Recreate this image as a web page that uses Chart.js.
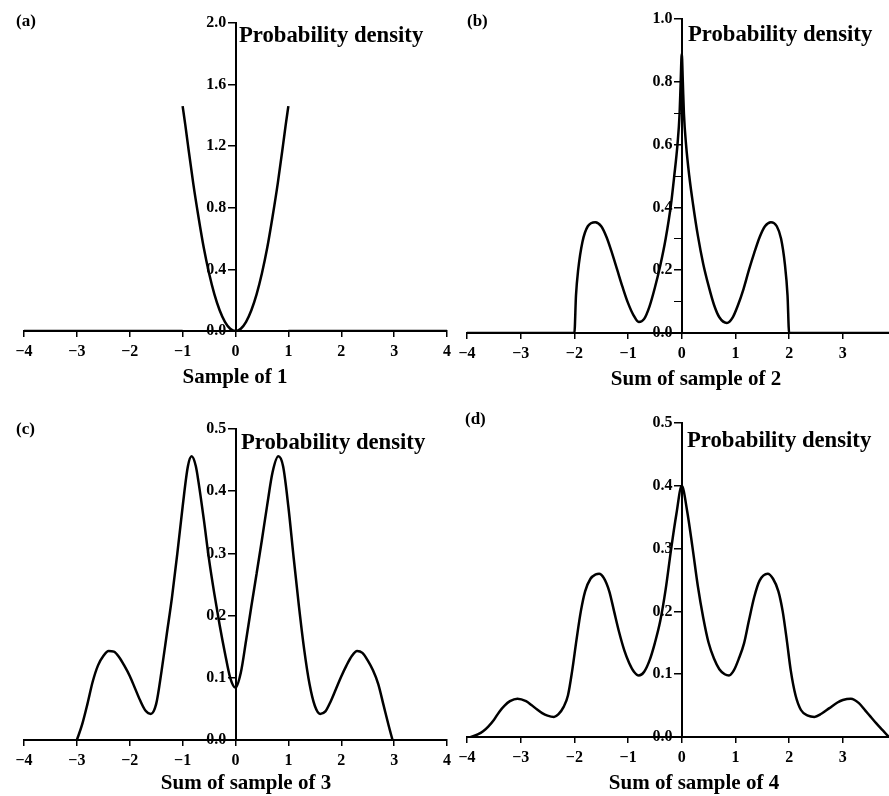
<!DOCTYPE html>
<html>
<head>
<meta charset="utf-8">
<script src="https://cdn.jsdelivr.net/npm/chart.js@4.4.1/dist/chart.umd.min.js"></script>
<style>
  body { margin: 0; background: #fff; }
  #wrap { position: relative; width: 889px; height: 796px; overflow: hidden; background: #fff;
          font-family: "Liberation Serif", "Times New Roman", serif; font-weight: bold; color: #000; }
  #wrap canvas { position: absolute; left: 0; top: 0; }
  .t { position: absolute; line-height: 1; white-space: nowrap; }
  .panel { font-size: 17px; }
  .ylab { font-size: 22.7px; }
  .xlab { font-size: 21px; transform: translateX(-50%); }
</style>
</head>
<body>
<div id="wrap">
  <canvas id="ca" width="889" height="796"></canvas>
  <canvas id="cb" width="889" height="796"></canvas>
  <canvas id="cc" width="889" height="796"></canvas>
  <canvas id="cd" width="889" height="796"></canvas>

  <div class="t panel" style="left:16px;top:12px">(a)</div>
  <div class="t panel" style="left:467px;top:12px">(b)</div>
  <div class="t panel" style="left:16px;top:420px">(c)</div>
  <div class="t panel" style="left:465px;top:410px">(d)</div>

  <div class="t ylab" style="left:239px;top:24px">Probability density</div>
  <div class="t ylab" style="left:688px;top:23px">Probability density</div>
  <div class="t ylab" style="left:241px;top:431px">Probability density</div>
  <div class="t ylab" style="left:687px;top:429px">Probability density</div>

  <div class="t xlab" style="left:235px;top:366px">Sample of 1</div>
  <div class="t xlab" style="left:696px;top:368px">Sum of sample of 2</div>
  <div class="t xlab" style="left:246px;top:772px">Sum of sample of 3</div>
  <div class="t xlab" style="left:694px;top:772px">Sum of sample of 4</div>
</div>
<script>
// (a) one sample
const aX = [-4, -1, -1, -1, -0.95, -0.9, -0.8, -0.7, -0.6, -0.5, -0.4, -0.3, -0.2, -0.1, 0,
            0.1, 0.2, 0.3, 0.4, 0.5, 0.6, 0.7, 0.8, 0.9, 0.95, 1, 1, 1, 4];
const aY = [0, 0, null, 1.46, 1.34, 1.21, 0.96, 0.74, 0.54, 0.375, 0.24, 0.135, 0.06, 0.015, 0,
            0.015, 0.06, 0.135, 0.24, 0.375, 0.54, 0.74, 0.96, 1.21, 1.34, 1.46, null, 0, 0];

// (b) sum of two
const bX = [-4, -2, -1.97, -1.93, -1.85, -1.75, -1.61, -1.5, -1.4, -1.3, -1.2, -1.1, -1.0, -0.9,
            -0.8, -0.7, -0.6, -0.5, -0.4, -0.3, -0.2, -0.14, -0.08, -0.04, -0.02, 0,
            0.02, 0.04, 0.08, 0.14, 0.21, 0.3, 0.4, 0.5, 0.6, 0.7, 0.84, 0.95, 1.05, 1.15, 1.25,
            1.35, 1.45, 1.55, 1.66, 1.77, 1.85, 1.92, 1.97, 2, 4];
const bY = [0, 0, 0.12, 0.2, 0.29, 0.34, 0.353, 0.34, 0.305, 0.255, 0.2, 0.145, 0.095, 0.057,
            0.035, 0.045, 0.085, 0.145, 0.215, 0.3, 0.41, 0.5, 0.6, 0.7, 0.8, 0.89,
            0.8, 0.7, 0.6, 0.5, 0.41, 0.31, 0.22, 0.15, 0.09, 0.05, 0.032, 0.05, 0.09, 0.14, 0.2,
            0.255, 0.305, 0.34, 0.353, 0.34, 0.3, 0.22, 0.12, 0, 0];

// (c) sum of three
const cX = [-3, -2.9, -2.8, -2.7, -2.6, -2.5, -2.4, -2.3, -2.2, -2.1, -2.0, -1.9, -1.8, -1.7,
            -1.6, -1.5, -1.4, -1.3, -1.2, -1.1, -1.0, -0.9, -0.83, -0.75, -0.7, -0.6, -0.5,
            -0.4, -0.3, -0.2, -0.1, 0,
            0.1, 0.2, 0.3, 0.4, 0.5, 0.6, 0.7, 0.81, 0.9, 1.0, 1.1, 1.2, 1.3, 1.4, 1.5, 1.6,
            1.7, 1.8, 1.9, 2.0, 2.1, 2.2, 2.3, 2.4, 2.5, 2.6, 2.7, 2.8, 2.9, 2.97];
const cY = [0, 0.025, 0.058, 0.094, 0.12, 0.135, 0.143, 0.142, 0.133, 0.119, 0.103, 0.083, 0.063, 0.047,
            0.042, 0.058, 0.11, 0.17, 0.23, 0.3, 0.375, 0.44, 0.456, 0.44, 0.415, 0.355, 0.29,
            0.235, 0.185, 0.14, 0.1, 0.084,
            0.108, 0.16, 0.215, 0.268, 0.322, 0.378, 0.43, 0.456, 0.44, 0.375, 0.293, 0.215, 0.145, 0.09, 0.055, 0.042,
            0.046, 0.062, 0.082, 0.102, 0.12, 0.135, 0.143, 0.14, 0.128, 0.112, 0.09, 0.056, 0.022, 0];

// (d) sum of four
const dX = [-3.93, -3.8, -3.7, -3.6, -3.5, -3.4, -3.3, -3.2, -3.06, -2.9, -2.8, -2.7, -2.6, -2.5,
            -2.38, -2.3, -2.2, -2.12, -2.04, -1.96, -1.88, -1.8, -1.7, -1.6, -1.54, -1.45, -1.35,
            -1.26, -1.17, -1.07, -0.98, -0.89, -0.8, -0.7, -0.6, -0.5, -0.4, -0.3, -0.2, -0.1, 0,
            0.1, 0.2, 0.3, 0.4, 0.5, 0.6, 0.7, 0.8, 0.88, 0.97, 1.06, 1.16, 1.25, 1.35, 1.45, 1.6,
            1.7, 1.8, 1.88, 1.96, 2.03, 2.12, 2.22, 2.35, 2.47, 2.6, 2.75, 2.9, 3.0, 3.15, 3.3,
            3.42, 3.52, 3.62, 3.75, 3.88, 4.0];
const dY = [0, 0.004, 0.009, 0.017, 0.027, 0.04, 0.05, 0.057, 0.061, 0.057, 0.051, 0.044, 0.038, 0.034,
            0.032, 0.036, 0.048, 0.066, 0.106, 0.155, 0.2, 0.232, 0.252, 0.259, 0.26, 0.253, 0.232,
            0.2, 0.168, 0.138, 0.118, 0.104, 0.098, 0.104, 0.122, 0.15, 0.185, 0.235, 0.298, 0.355, 0.4,
            0.36, 0.302, 0.24, 0.19, 0.15, 0.125, 0.108, 0.1, 0.098, 0.106, 0.124, 0.149, 0.185, 0.223, 0.249, 0.26,
            0.252, 0.232, 0.2, 0.152, 0.106, 0.066, 0.043, 0.034, 0.032, 0.037, 0.046, 0.055, 0.059, 0.061, 0.054,
            0.042, 0.032, 0.022, 0.01, 0, 0];

// tick values (unlabelled minor ticks in b)
const xTicksFull = [-4, -3, -2, -1, 0, 1, 2, 3, 4];
const xTicksCut = [-4, -3, -2, -1, 0, 1, 2, 3];
const aYTicks = [0, 0.4, 0.8, 1.2, 1.6, 2.0];
const bYTicks = [0, 0.2, 0.4, 0.6, 0.8, 1.0];
const bYMinor = [0.1, 0.3, 0.5, 0.7];
const cYTicks = [0, 0.1, 0.2, 0.3, 0.4, 0.5];
const dYTicks = [0, 0.1, 0.2, 0.3, 0.4, 0.5];

const W = 889, H = 796, AXIS_H = 34;
const tickFont = { family: 'Liberation Serif', weight: 'bold', size: 16 };
// a y axis pinned at x = 0 ignores ticks.padding, so the gap is put in the label
const Y_GAP = '\u2002\u200a';

function fmtX(v) {
  return v < 0 ? '\u2212' + Math.abs(v) : String(v);
}

function drawPanel(id, xs, ys, xMax, xTicks, yMax, yTicks, yMinor, box) {
  const points = xs.map((x, i) => ({ x: x, y: ys[i] }));
  const yAll = yTicks.concat(yMinor).sort((p, q) => p - q);
  new Chart(document.getElementById(id), {
    type: 'line',
    data: {
      datasets: [{
        data: points,
        borderColor: '#000',
        borderWidth: 2.5,
        pointRadius: 0,
        fill: false,
        cubicInterpolationMode: 'monotone'
      }]
    },
    options: {
      responsive: false,
      animation: false,
      events: [],
      layout: {
        padding: { left: box.left, right: W - box.right, top: box.top, bottom: H - box.bottom - AXIS_H }
      },
      plugins: { legend: { display: false }, tooltip: { enabled: false } },
      scales: {
        x: {
          type: 'linear',
          min: -4,
          max: xMax,
          afterFit: s => { s.height = AXIS_H; },
          afterBuildTicks: s => { s.ticks = xTicks.map(v => ({ value: v })); },
          grid: { drawOnChartArea: false, drawTicks: true, tickLength: 6, color: '#000', lineWidth: 1.5 },
          border: { display: true, color: '#000', width: 2 },
          ticks: { font: tickFont, color: '#000', padding: 5, maxRotation: 0, callback: fmtX }
        },
        y: {
          type: 'linear',
          position: { x: 0 },
          min: 0,
          max: yMax,
          afterBuildTicks: s => { s.ticks = yAll.map(v => ({ value: v })); },
          grid: {
            drawOnChartArea: false, drawTicks: true, tickLength: 7, color: '#000',
            lineWidth: c => (c.tick && yMinor.includes(c.tick.value) ? 1 : 1.5)
          },
          border: { display: true, color: '#000', width: 2 },
          ticks: {
            font: tickFont, color: '#000',
            callback: v => (yMinor.includes(v) ? '' : v.toFixed(1) + Y_GAP)
          }
        }
      }
    }
  });
}

drawPanel('ca', aX, aY, 4, xTicksFull, 2.0, aYTicks, [], { left: 24, right: 447, top: 23, bottom: 331 });
drawPanel('cb', bX, bY, 3.86, xTicksCut, 1.0, bYTicks, bYMinor, { left: 467, right: 889, top: 19, bottom: 333 });
drawPanel('cc', cX, cY, 4, xTicksFull, 0.5, cYTicks, [], { left: 24, right: 447, top: 429, bottom: 740 });
drawPanel('cd', dX, dY, 3.86, xTicksCut, 0.5, dYTicks, [], { left: 467, right: 889, top: 423, bottom: 737 });
</script>
</body>
</html>
